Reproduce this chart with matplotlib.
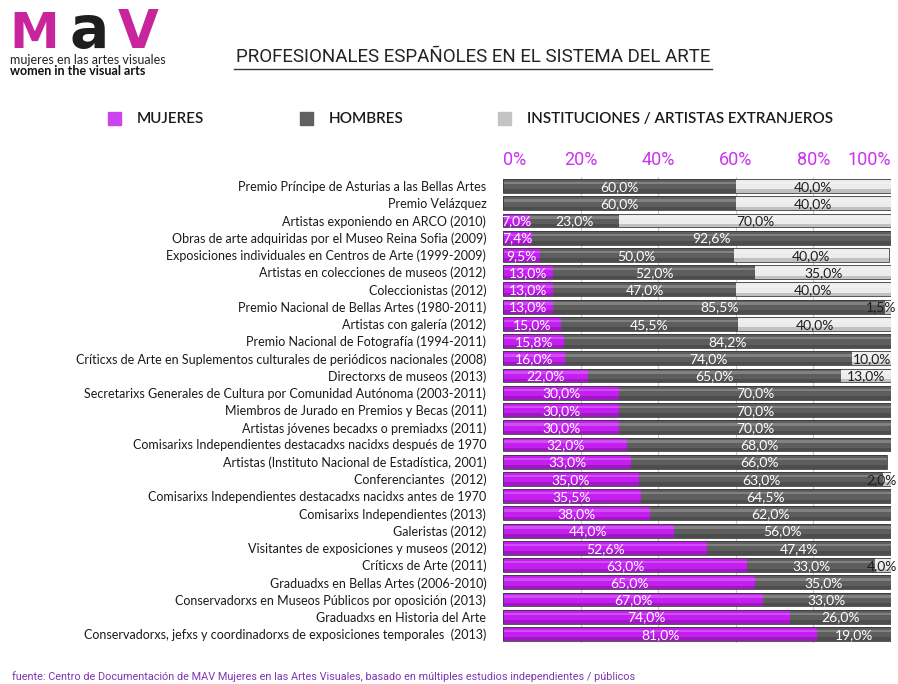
import matplotlib
matplotlib.use("Agg")
import matplotlib.pyplot as plt
from matplotlib import font_manager
from matplotlib.lines import Line2D
from matplotlib.patches import Rectangle
import numpy as np

# Data (percentages).
categories = [
    "Premio Príncipe de Asturias a las Bellas Artes",
    "Premio Velázquez",
    "Artistas exponiendo en ARCO (2010)",
    "Obras de arte adquiridas por el Museo Reina Sofia (2009)",
    "Exposiciones individuales en Centros de Arte (1999-2009)",
    "Artistas en colecciones de museos (2012)",
    "Coleccionistas (2012)",
    "Premio Nacional de Bellas Artes (1980-2011)",
    "Artistas con galería (2012)",
    "Premio Nacional de Fotografía (1994-2011)",
    "Críticxs de Arte en Suplementos culturales de periódicos nacionales (2008)",
    "Directorxs de museos (2013)",
    "Secretarixs Generales de Cultura por Comunidad Autónoma (2003-2011)",
    "Miembros de Jurado en Premios y Becas (2011)",
    "Artistas jóvenes becadxs o premiadxs (2011)",
    "Comisarixs Independientes destacadxs nacidxs después de 1970",
    "Artistas (Instituto Nacional de Estadística, 2001)",
    "Conferenciantes  (2012)",
    "Comisarixs Independientes destacadxs nacidxs antes de 1970",
    "Comisarixs Independientes (2013)",
    "Galeristas (2012)",
    "Visitantes de exposiciones y museos (2012)",
    "Críticxs de Arte (2011)",
    "Graduadxs en Bellas Artes (2006-2010)",
    "Conservadorxs en Museos Públicos por oposición (2013)",
    "Graduadxs en Historia del Arte",
    "Conservadorxs, jefxs y coordinadorxs de exposiciones temporales  (2013)",
]
mujeres = [0, 0, 7.0, 7.4, 9.5, 13.0, 13.0, 13.0, 15.0, 15.8, 16.0, 22.0, 30.0, 30.0,
           30.0, 32.0, 33.0, 35.0, 35.5, 38.0, 44.0, 52.6, 63.0, 65.0, 67.0, 74.0, 81.0]
hombres = [60.0, 60.0, 23.0, 92.6, 50.0, 52.0, 47.0, 85.5, 45.5, 84.2, 74.0, 65.0, 70.0, 70.0,
           70.0, 68.0, 66.0, 63.0, 64.5, 62.0, 56.0, 47.4, 33.0, 35.0, 33.0, 26.0, 19.0]
instituciones = [40.0, 40.0, 70.0, 0, 40.0, 35.0, 40.0, 1.5, 40.0, 0, 10.0, 13.0, 0, 0,
                 0, 0, 0, 2.0, 0, 0, 0, 0, 4.0, 0, 0, 0, 0]
series_names = ["MUJERES", "HOMBRES", "INSTITUCIONES / ARTISTAS EXTRANJEROS"]
tick_values = [0, 20, 40, 60, 80, 100]
tick_labels = ["0%", "20%", "40%", "60%", "80%", "100%"]

MAGENTA = "#c41ef0"
DARK = "#5e5e5e"
LIGHT = "#ececec"
LEGEND_COLOURS = ["#cc44ee", "#606060", "#c4c4c4"]

names = {f.name for f in font_manager.fontManager.ttflist}
COND = "Liberation Sans Narrow" if "Liberation Sans Narrow" in names else "Roboto"
BODY = "Lato" if "Lato" in names else "DejaVu Sans"

W, H = 898, 684
fig = plt.figure(figsize=(W / 100, H / 100), dpi=100)


def px(x, y):
    return x / W, 1 - y / H


def pct(v):
    return ("%.1f%%" % v).replace(".", ",")


# Bars area: 0% at x=503, 100% at x=891; rows centred from y=186 to y=634.
step = (634 - 186) / 26
top = 186 - step / 2
bottom = 634 + step / 2
ax = fig.add_axes([503 / W, 1 - bottom / H, 388 / W, (bottom - top) / H])

y = np.arange(len(categories))
m = np.array(mujeres)
h = np.array(hombres)
ins = np.array(instituciones)
total = m + h + ins
bh = 0.8

ax.barh(y, m, height=bh, color=MAGENTA, zorder=2)
ax.barh(y, h, left=m, height=bh, color=DARK, zorder=2)
ax.barh(y, ins, left=m + h, height=bh, color=LIGHT, zorder=2)
# fake cylinder shading
ax.barh(y - 0.17, total, height=0.14, color="white", alpha=0.22, zorder=3, lw=0)
ax.barh(y + 0.3, total, height=0.2, color="black", alpha=0.18, zorder=3, lw=0)
ax.barh(y, total, height=bh, color="none", edgecolor="#3a3a3a", lw=0.6, zorder=4)

lab_kw = dict(va="center", fontsize=10, family=BODY, zorder=5)
for i in range(len(categories)):
    if m[i] > 0:
        ax.text(m[i] / 2, i + 0.05, pct(m[i]), color="white", ha="center", **lab_kw)
    if h[i] > 0:
        ax.text(m[i] + h[i] / 2, i + 0.05, pct(h[i]), color="white", ha="center", **lab_kw)
    if ins[i] >= 5:
        ax.text(m[i] + h[i] + ins[i] / 2, i + 0.05, pct(ins[i]), color="#1e1e1e",
                ha="center", **lab_kw)
    elif ins[i] > 0:
        ax.text(101.5, i + 0.05, pct(ins[i]), color="#1e1e1e", ha="right",
                clip_on=False, **lab_kw)

ax.set_xlim(0, 100)
ax.set_ylim(len(categories) - 0.5, -0.5)
ax.set_yticks(y)
ax.set_yticklabels(categories, family=BODY, fontsize=9, color="#1a1a1a")
ax.tick_params(axis="y", length=0, pad=12)
ax.xaxis.tick_top()
ax.set_xticks(tick_values)
ax.set_xticklabels(tick_labels, family=COND, fontsize=13, color="#cc33ee")
ax.tick_params(axis="x", length=0, pad=6)
xl = ax.get_xticklabels()
xl[0].set_ha("left")
xl[-1].set_ha("right")
for v in tick_values[1:-1]:
    ax.axvline(v, color="#c8c8c8", lw=0.8, zorder=1)
for s in ax.spines.values():
    s.set_visible(False)

# Title with underline
fig.text(*px(473, 57), "PROFESIONALES ESPAÑOLES EN EL SISTEMA DEL ARTE", ha="center",
         va="center", fontsize=13.5, family=COND, color="#222222")
fig.add_artist(Line2D([234 / W, 712 / W], [1 - 69 / H, 1 - 69 / H], color="#333333", lw=1))

# Legend
legend_x = [108, 300, 498]
for lx, name, col in zip(legend_x, series_names, LEGEND_COLOURS):
    fig.add_artist(Rectangle(px(lx, 125), 13 / W, 13 / H, color=col, transform=fig.transFigure))
    fig.text(*px(lx + 29, 119), name, ha="left", va="center", fontsize=11,
             family=BODY, weight="semibold", color="#1a1a1a")

# Logo
fig.text(*px(9, 48), "M", ha="left", va="baseline", fontsize=36, family="DejaVu Sans",
         weight="bold", color="#c8249c")
fig.text(*px(70, 48), "a", ha="left", va="baseline", fontsize=42, family="DejaVu Sans",
         weight="bold", color="#1e1e1e")
fig.text(*px(118, 48), "V", ha="left", va="baseline", fontsize=38, family="DejaVu Sans",
         weight="bold", color="#c8249c")
fig.text(*px(10, 60), "mujeres en las artes visuales", ha="left", va="center",
         fontsize=9, family=BODY, color="#222222")
fig.text(*px(10, 71), "women in the visual arts", ha="left", va="center",
         fontsize=9, family=BODY, weight="bold", color="#111111")

# Footer
fig.text(*px(12, 677), "fuente: Centro de Documentación de MAV Mujeres en las Artes Visuales, "
         "basado en múltiples estudios independientes / públicos",
         ha="left", va="center", fontsize=7.8, family=COND, color="#7e35b0")

fig.savefig("out.png", dpi=100)
